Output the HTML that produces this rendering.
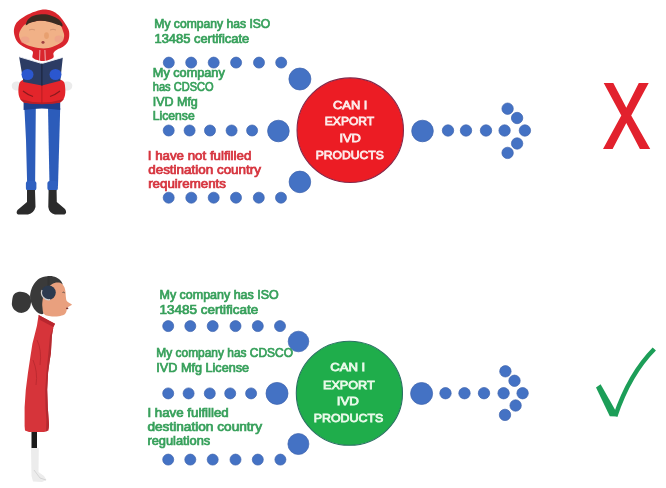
<!DOCTYPE html>
<html><head><meta charset="utf-8">
<style>
html,body{margin:0;padding:0;background:#fff;}
body{width:666px;height:488px;overflow:hidden;font-family:"Liberation Sans",sans-serif;}
svg{display:block;filter:blur(0.35px);}
text{font-family:"Liberation Sans",sans-serif;font-weight:bold;}
.g{fill:#37a05b;font-size:12px;font-weight:normal;stroke:#37a05b;stroke-width:0.7px;}
.r{fill:#d6343e;font-size:12px;font-weight:normal;stroke:#d6343e;stroke-width:0.7px;}
.w{fill:#fdeceb;font-size:11.8px;font-weight:normal;stroke:#fdeceb;stroke-width:0.8px;}
.w2{fill:#eafaea;font-size:11.8px;font-weight:normal;stroke:#eafaea;stroke-width:0.8px;}
</style></head>
<body>
<svg width="666" height="488" viewBox="0 0 666 488">
<rect width="666" height="488" fill="#fff"/>
<g fill="#4472c4" stroke="#3d63ad" stroke-width="0.7"><circle cx="168.8" cy="62.6" r="5.50"/><circle cx="191.2" cy="62.6" r="5.50"/><circle cx="213.7" cy="62.6" r="5.50"/><circle cx="236.1" cy="62.6" r="5.50"/><circle cx="259" cy="62.6" r="5.50"/><circle cx="281.2" cy="62.6" r="5.50"/><circle cx="299.9" cy="79" r="11.0"/><circle cx="168.7" cy="130.5" r="5.50"/><circle cx="189.6" cy="130.5" r="5.50"/><circle cx="210" cy="130.5" r="5.50"/><circle cx="231.6" cy="130.5" r="5.50"/><circle cx="252.1" cy="130.5" r="5.50"/><circle cx="278.4" cy="131" r="10.8"/><circle cx="299.9" cy="181.9" r="10.8"/><circle cx="168.7" cy="197.7" r="5.50"/><circle cx="191.3" cy="197.7" r="5.50"/><circle cx="213.7" cy="197.7" r="5.50"/><circle cx="236" cy="197.7" r="5.50"/><circle cx="258.8" cy="197.7" r="5.50"/><circle cx="281" cy="197.7" r="5.50"/><circle cx="422.5" cy="131" r="10.8"/><circle cx="448" cy="130.5" r="5.70"/><circle cx="466" cy="130.5" r="5.70"/><circle cx="486" cy="130.5" r="5.70"/><circle cx="504.6" cy="130.5" r="5.70"/><circle cx="524.9" cy="130.5" r="5.70"/><circle cx="507.6" cy="108.7" r="5.70"/><circle cx="517.1" cy="118" r="5.70"/><circle cx="517.1" cy="143.5" r="5.70"/><circle cx="507.6" cy="152.9" r="5.70"/></g>
<ellipse cx="350.25" cy="130.2" rx="53.2" ry="52.3" fill="#ec1c24" stroke="#84284a" stroke-width="1.1"/>
<text class="w" x="333" y="108.6" textLength="34.4" lengthAdjust="spacingAndGlyphs">CAN I</text>

<text class="w" x="324.8" y="125.1" textLength="49.4" lengthAdjust="spacingAndGlyphs">EXPORT</text>

<text class="w" x="339.4" y="142.2" textLength="21.5" lengthAdjust="spacingAndGlyphs">IVD</text>

<text class="w" x="315.7" y="158.8" textLength="68.1" lengthAdjust="spacingAndGlyphs">PRODUCTS</text>

<text class="g" x="154.3" y="27.5" textLength="116" lengthAdjust="spacingAndGlyphs">My company has ISO</text>

<text class="g" x="154.5" y="42.5" textLength="94.7" lengthAdjust="spacingAndGlyphs">13485 certificate</text>

<text class="g" x="152.8" y="76.9" textLength="72" lengthAdjust="spacingAndGlyphs">My company</text>

<text class="g" x="152.8" y="91.4" textLength="60.8" lengthAdjust="spacingAndGlyphs">has CDSCO</text>

<text class="g" x="152.8" y="105.7" textLength="45" lengthAdjust="spacingAndGlyphs">IVD Mfg</text>

<text class="g" x="152.8" y="120.4" textLength="41.9" lengthAdjust="spacingAndGlyphs">License</text>

<text class="r" x="147.8" y="159.6" textLength="103.5" lengthAdjust="spacingAndGlyphs">I have not fulfilled</text>

<text class="r" x="148.2" y="173.9" textLength="112.8" lengthAdjust="spacingAndGlyphs">destination country</text>

<text class="r" x="148.2" y="187.8" textLength="77.7" lengthAdjust="spacingAndGlyphs">requirements</text>

<polygon fill="#e2212d" points="603.7,83 613.3,83 626.3,107.8 638.8,83 648.7,83 631.2,115.5 650.2,149 639.9,149 626.3,123 612.6,149 603,149 621.3,115.5"/>
<g fill="#4472c4" stroke="#3d63ad" stroke-width="0.7"><circle cx="168.2" cy="326.1" r="5.50"/><circle cx="190.3" cy="326.1" r="5.50"/><circle cx="212.7" cy="326.1" r="5.50"/><circle cx="235.5" cy="326.1" r="5.50"/><circle cx="257.8" cy="326.1" r="5.50"/><circle cx="280" cy="326.1" r="5.50"/><circle cx="298.5" cy="341.5" r="10.3"/><circle cx="168.2" cy="393.4" r="5.50"/><circle cx="188.6" cy="393.4" r="5.50"/><circle cx="209.8" cy="393.4" r="5.50"/><circle cx="230.2" cy="393.4" r="5.50"/><circle cx="251.1" cy="393.4" r="5.50"/><circle cx="277" cy="393.4" r="11.0"/><circle cx="298.4" cy="444" r="10.5"/><circle cx="168.2" cy="459.6" r="5.50"/><circle cx="190.3" cy="459.6" r="5.50"/><circle cx="212.7" cy="459.6" r="5.50"/><circle cx="235.5" cy="459.6" r="5.50"/><circle cx="257.8" cy="459.6" r="5.50"/><circle cx="280.4" cy="459.6" r="5.50"/><circle cx="421.6" cy="393.5" r="11.0"/><circle cx="445.5" cy="393.2" r="5.70"/><circle cx="464.5" cy="393.2" r="5.70"/><circle cx="484" cy="393.2" r="5.70"/><circle cx="503.6" cy="393.2" r="5.70"/><circle cx="522.6" cy="393.2" r="5.70"/><circle cx="505.4" cy="371.3" r="5.70"/><circle cx="514.5" cy="380.8" r="5.70"/><circle cx="515.6" cy="405.5" r="5.70"/><circle cx="505" cy="414.9" r="5.70"/></g>
<ellipse cx="349.4" cy="393.25" rx="53.1" ry="52" fill="#1fad4b" stroke="#2a7262" stroke-width="1.1"/>
<text class="w2" x="330.2" y="371.3" textLength="35.1" lengthAdjust="spacingAndGlyphs">CAN I</text>

<text class="w2" x="323" y="388.5" textLength="51.7" lengthAdjust="spacingAndGlyphs">EXPORT</text>

<text class="w2" x="336.7" y="405" textLength="22.2" lengthAdjust="spacingAndGlyphs">IVD</text>

<text class="w2" x="313.7" y="422.2" textLength="69.6" lengthAdjust="spacingAndGlyphs">PRODUCTS</text>

<text class="g" x="159.5" y="298.8" textLength="119.2" lengthAdjust="spacingAndGlyphs">My company has ISO</text>

<text class="g" x="159.5" y="314.3" textLength="98.8" lengthAdjust="spacingAndGlyphs">13485 certificate</text>

<text class="g" x="156.3" y="356.6" textLength="136.7" lengthAdjust="spacingAndGlyphs">My company has CDSCO</text>

<text class="g" x="156.3" y="372.3" textLength="92.8" lengthAdjust="spacingAndGlyphs">IVD Mfg License</text>

<text class="g" x="147.4" y="416.6" textLength="81.4" lengthAdjust="spacingAndGlyphs">I have fulfilled</text>

<text class="g" x="147.4" y="431.2" textLength="114.6" lengthAdjust="spacingAndGlyphs">destination country</text>

<text class="g" x="147.4" y="444.9" textLength="62.9" lengthAdjust="spacingAndGlyphs">regulations</text>

<path fill="#1c9e58" d="M596,387.4 L600.6,384.2 L615.5,410.5 L617.5,416.5 L609.8,416.3 Z"/><path fill="none" stroke="#1c9e58" stroke-width="4.6" d="M615.3,416 Q629.5,374 654.3,349"/>
<g id="boy">
  <path d="M24.4,108 L35.8,108 L35.1,186 L27.2,186 L26,140 Z" fill="#2c5cba"/>
  <path d="M48,108 L60.2,108 L58,186 L49.5,186 Z" fill="#2c5cba"/>
  <rect x="25.9" y="181" width="10.5" height="9.5" rx="2.5" fill="#2f60c0"/>
  <rect x="47.4" y="181" width="10.5" height="9.5" rx="2.5" fill="#2f60c0"/>
  <path d="M27,190 L35,190 L35.5,207 Q34,213 28,214.5 L18,214.5 Q15.5,213 17.5,210 L27,202 Z" fill="#2b2b2b"/>
  <path d="M48.6,190 L56.6,190 L56.8,202 L65,209 Q67.5,213 64.5,214.5 L55,214.5 Q49,213 48.3,207 Z" fill="#2b2b2b"/>
  <path d="M23.6,100 L60.2,100 L60.2,110 Q42,107 23.6,110 Z" fill="#1e3f8c"/>
  <path d="M12.0,84.0 C12.6,82.8 14.5,81.7 16.0,81.5 C17.5,81.3 20.2,81.8 21.0,83.0 C21.8,84.2 21.8,87.8 21.0,89.0 C20.2,90.2 17.4,90.6 16.0,90.5 C14.6,90.4 13.2,89.6 12.5,88.5 C11.8,87.4 11.4,85.2 12.0,84.0 Z" fill="#ebebeb"/>
  <path d="M63.0,83.0 C63.8,81.8 66.5,81.3 68.0,81.5 C69.5,81.7 71.4,82.8 72.0,84.0 C72.6,85.2 72.2,87.4 71.5,88.5 C70.8,89.6 69.4,90.4 68.0,90.5 C66.6,90.6 63.8,90.2 63.0,89.0 C62.2,87.8 62.2,84.2 63.0,83.0 Z" fill="#ebebeb"/>
  <path d="M18.5,88.0 C18.8,85.3 19.1,82.5 21.0,81.0 C22.9,79.5 26.5,79.2 30.0,79.0 C33.5,78.8 38.0,80.0 42.0,80.0 C46.0,80.0 50.5,78.8 54.0,79.0 C57.5,79.2 61.1,79.5 63.0,81.0 C64.9,82.5 65.0,85.3 65.2,88.0 C65.5,90.7 65.4,94.6 64.5,97.0 C63.6,99.4 62.4,101.4 60.0,102.5 C57.6,103.6 53.0,103.3 50.0,103.5 C47.0,103.7 44.8,103.5 42.0,103.5 C39.2,103.5 36.0,103.7 33.0,103.5 C30.0,103.3 26.3,103.6 24.0,102.5 C21.7,101.4 20.2,99.4 19.3,97.0 C18.4,94.6 18.2,90.7 18.5,88.0 Z" fill="#e3252b"/>
  <path d="M23,91 Q28,95 33,96.5" stroke="#8a1a1e" stroke-width="1.2" fill="none"/>
  <path d="M60,91 Q55,95 50,96.5" stroke="#8a1a1e" stroke-width="1.2" fill="none"/>
  <path d="M20,99 Q42,106 64,99 L60,102.5 Q42,106 24,102.5 Z" fill="#b81f26"/>
  <line x1="41.9" y1="84" x2="41.9" y2="103" stroke="#b01a20" stroke-width="0.8"/>
  <path d="M13.9,32.0 C13.7,29.2 14.4,26.4 15.6,24.2 C16.8,21.9 18.9,20.3 21.3,18.5 C23.8,16.7 27.1,14.9 30.3,13.5 C33.5,12.1 37.6,10.7 40.4,10.1 C43.2,9.5 45.1,9.5 47.2,9.7 C49.3,9.9 50.9,10.3 52.8,11.2 C54.7,12.1 56.6,13.3 58.5,15.1 C60.4,16.9 62.4,19.4 64.1,21.9 C65.8,24.3 67.8,27.4 68.6,29.8 C69.4,32.2 69.4,34.4 69.2,36.5 C69.0,38.6 68.5,40.5 67.5,42.2 C66.5,43.9 64.7,45.5 63.0,46.7 C61.3,47.9 58.9,48.5 57.3,49.5 C55.7,50.5 54.2,51.6 53.5,53.0 C52.8,54.4 54.8,56.7 53.0,58.0 C51.2,59.3 46.3,61.0 43.0,61.0 C39.7,61.0 34.8,59.6 33.0,58.0 C31.2,56.4 34.1,53.1 32.5,51.2 C30.9,49.3 26.1,48.4 23.5,46.7 C20.9,45.0 18.4,43.5 16.8,41.0 C15.2,38.5 14.1,34.8 13.9,32.0 Z" fill="#d9252d"/>
  <line x1="39.9" y1="50" x2="39.5" y2="61" stroke="#f4d0d0" stroke-width="0.8"/>
  <line x1="44.9" y1="50" x2="45.3" y2="61" stroke="#f4d0d0" stroke-width="0.8"/>
  <path d="M19.1,56.8 L41.9,63.5 L62.8,57.4 L60.3,80.7 L41.9,85.6 L23.4,82 Z" fill="#2c3c64"/>
  <path d="M19.1,56.8 L41.9,63.5 L62.8,57.4" stroke="#eef0f6" stroke-width="0.9" fill="none"/>
  <line x1="41.9" y1="63.5" x2="41.9" y2="85.6" stroke="#1a2238" stroke-width="1"/>
  <ellipse cx="27.5" cy="74.5" rx="6" ry="5.5" fill="#2b57cf"/>
  <ellipse cx="55.5" cy="74.5" rx="6" ry="5.5" fill="#2b57cf"/>
  <path d="M19.0,34.3 C19.2,31.6 21.7,27.8 23.5,25.8 C25.3,23.8 27.4,23.3 30.0,22.5 C32.6,21.7 36.1,21.0 39.3,20.8 C42.5,20.6 46.0,20.9 49.4,21.5 C52.8,22.1 57.3,22.9 59.6,24.5 C61.9,26.1 62.2,28.9 63.0,30.9 C63.8,32.9 64.4,34.6 64.1,36.5 C63.8,38.4 63.2,40.5 61.3,42.2 C59.4,43.9 55.7,45.7 52.8,46.7 C49.9,47.7 47.2,48.4 43.8,48.4 C40.4,48.4 36.1,47.7 32.5,46.7 C28.9,45.7 24.6,44.3 22.4,42.2 C20.1,40.1 18.8,37.0 19.0,34.3 Z" fill="#f1b187"/>
  <path d="M25.8,25.2 C25.6,24.5 26.8,20.7 28.5,19.0 C30.2,17.3 32.8,15.8 35.9,15.1 C39.0,14.4 43.6,14.0 47.2,14.6 C50.8,15.2 54.9,17.1 57.3,18.5 C59.7,19.9 61.0,21.7 61.8,23.0 C62.6,24.3 62.7,26.1 62.3,26.5 C61.9,26.9 61.8,26.1 59.6,25.3 C57.5,24.5 52.8,22.6 49.4,21.9 C46.0,21.1 42.5,20.6 39.3,20.8 C36.1,21.0 32.2,22.3 30.0,23.0 C27.8,23.7 26.1,25.9 25.8,25.2 Z" fill="#3a2b22"/>
  <ellipse cx="25" cy="40" rx="4.5" ry="3.5" fill="#ee9c8a" opacity="0.6"/>
  <ellipse cx="59" cy="39" rx="4.5" ry="3.5" fill="#ee9c8a" opacity="0.6"/>
  <ellipse cx="46.5" cy="35.6" rx="2.4" ry="3.4" fill="#e8a070"/>
  <ellipse cx="43" cy="42.4" rx="1.6" ry="1.3" fill="#a04040"/>
  <path d="M29,30 Q32,28.5 35,30 M50,30 Q53,28.5 56,30" stroke="#c98a6a" stroke-width="0.7" fill="none"/>
</g>

<g id="girl">
  <rect x="31.5" y="429" width="5.5" height="20" fill="#1a1a1a"/>
  <path d="M31,448 L38.8,448 L38.5,472 L44,476 L46.5,480 L42,482 L33,481.5 L31.5,476 Z" fill="#ececec"/>
  <path d="M34,470 L40,478 L46,480" stroke="#cfcfcf" stroke-width="0.8" fill="none"/>
  <path d="M38.6,315 L55,323.8 L53.4,326.9 L51.9,335.6 L51.4,343.8 L50.9,353 L49.5,362 L48.1,372.4 L47.2,389.8 L47.8,407.3 L49,424.7 L48.5,430.5 L44,432 L29,432 L25,430.5 L24.6,426 L24.6,407.3 L25.8,389.8 L28,372.4 L30.5,356 L32.4,343.8 L35,333.6 L37,325.4 Z" fill="#d6343a"/>
  <path d="M53.4,326.9 L51.9,335.6 L51.4,343.8 L50.9,353 L49.5,362 L48.1,372.4 L47.2,389.8 L47.8,407.3 L49,424.7 Q49,432 44,432 L46,432 Q47,420 45.5,407 L45.2,390 L46.5,372 L48.5,352 L50,336 Z" fill="#b42a30"/>
  <path d="M38.6,315 L55,323.8 L53.4,326.9 L40,320 Z" fill="#b8262e"/>
  <path d="M37,340 Q42,350 40,365 M33,360 Q38,372 36,385" stroke="#bd2a30" stroke-width="1" fill="none"/>
  <path d="M12.0,302.0 C12.2,300.2 12.5,296.7 13.5,295.0 C14.5,293.3 16.2,292.5 18.0,292.0 C19.8,291.5 22.2,291.7 24.0,292.2 C25.8,292.7 27.8,293.7 29.0,295.0 C30.2,296.3 30.8,298.0 31.0,300.0 C31.2,302.0 30.8,305.1 30.0,307.0 C29.2,308.9 27.7,310.5 26.0,311.5 C24.3,312.5 21.9,313.1 20.0,312.8 C18.1,312.6 15.8,311.1 14.5,310.0 C13.2,308.9 12.6,307.3 12.2,306.0 C11.8,304.7 11.8,303.8 12.0,302.0 Z" fill="#383838"/>
  <path d="M30.1,297.6 C29.9,294.6 30.6,291.6 31.5,289.0 C32.4,286.4 33.9,283.9 35.5,282.0 C37.1,280.1 38.6,278.8 41.0,277.8 C43.4,276.8 47.1,276.1 49.6,276.0 C52.1,275.9 54.2,276.6 56.0,277.3 C57.8,278.1 59.4,279.3 60.5,280.5 C61.6,281.7 62.9,283.8 62.5,284.5 C62.1,285.2 60.1,284.4 58.0,285.0 C55.9,285.6 52.3,286.2 50.0,288.0 C47.7,289.8 45.2,293.2 44.0,296.0 C42.8,298.8 43.1,302.1 43.0,305.0 C42.9,307.9 44.3,312.2 43.5,313.5 C42.7,314.8 40.0,314.1 38.3,313.0 C36.5,311.9 34.4,309.6 33.0,307.0 C31.6,304.4 30.4,300.6 30.1,297.6 Z" fill="#3a3a3a"/>
  <path d="M53.7,283.3 C55.5,282.4 56.6,282.5 58.0,282.6 C59.4,282.7 60.8,283.0 61.9,283.8 C63.0,284.6 63.9,286.1 64.5,287.5 C65.1,288.9 65.3,290.5 65.5,292.0 C65.7,293.5 65.6,295.1 65.8,296.5 C66.0,297.9 66.0,299.4 66.5,300.5 C67.0,301.6 68.1,302.1 69.0,302.8 C69.9,303.5 71.7,304.0 71.8,304.6 C71.9,305.2 70.2,305.8 69.5,306.2 C68.8,306.6 68.2,306.8 67.8,307.3 C67.3,307.9 67.1,308.7 66.8,309.5 C66.5,310.3 66.7,311.1 66.2,312.0 C65.7,312.9 65.2,314.1 64.0,314.8 C62.8,315.5 60.8,315.9 58.8,316.2 C56.8,316.5 54.0,316.5 52.0,316.4 C50.0,316.3 47.9,316.2 46.5,315.6 C45.1,315.0 44.1,314.4 43.4,313.0 C42.7,311.6 42.6,308.9 42.4,307.0 C42.2,305.1 42.1,303.9 42.4,301.7 C42.7,299.5 43.1,296.3 44.0,294.0 C44.9,291.7 45.9,289.8 47.5,288.0 C49.1,286.2 52.0,284.2 53.7,283.3 Z" fill="#e9a07e"/>
  <path d="M48.6,276 L48.6,286" stroke="#333" stroke-width="2"/>
  <circle cx="48.6" cy="292.6" r="7.2" fill="#2c3a4f"/>
  <path d="M42,290 A7.2,7.2 0 0 0 50,299.7" stroke="#cfcfcf" stroke-width="1.2" fill="none"/>
  <ellipse cx="67.2" cy="308.3" rx="1.2" ry="0.9" fill="#7a3030"/>
  <path d="M62.5,292.5 Q64,291.5 64.8,293" stroke="#3a3a3a" stroke-width="0.8" fill="none"/>
</g>

</svg>
</body></html>
